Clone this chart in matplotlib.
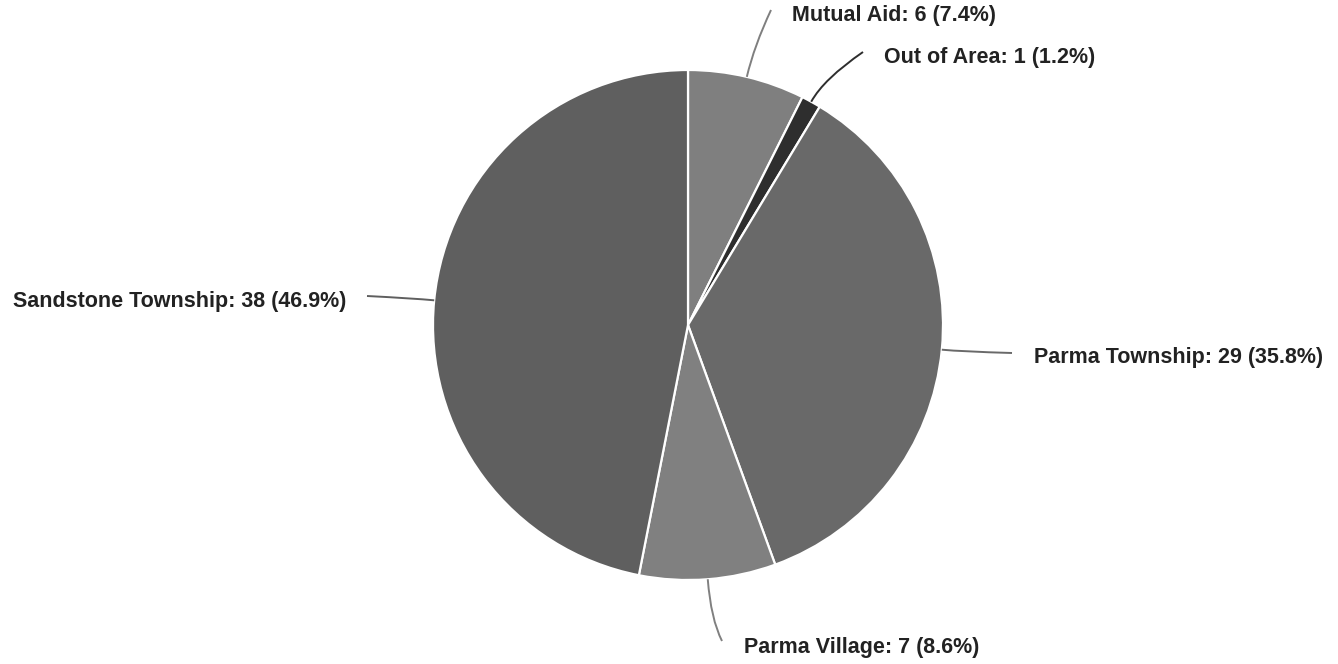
import numpy as np
import matplotlib
matplotlib.use("Agg")
import matplotlib.pyplot as plt
from matplotlib.path import Path
from matplotlib.patches import PathPatch

# ---- data ----
categories = ["Mutual Aid", "Out of Area", "Parma Township", "Parma Village", "Sandstone Township"]
values = [6, 1, 29, 7, 38]
colors = ["#7f7f7f", "#2e2e2e", "#696969", "#808080", "#5f5f5f"]

# ---- layout (pixel coords, y measured from top) ----
W, H = 1338, 664
CX, CY, R = 688, 325, 255
# label anchor (x, y) and alignment, plus connector end point
label_pos = [(792, 15, "left"), (884, 58, "left"), (1034, 357, "left"), (744, 647, "left"), (346, 301, "right")]
line_end = [(771, 10), (863, 52), (1012, 353), (722, 641), (367, 296)]
ctrl_ext = [32, 26, 20, 40, 20]

def Y(y):
    return H - y

fig = plt.figure(figsize=(W / 100, H / 100), dpi=100)
ax = fig.add_axes([0, 0, 1, 1])
wedges, _ = ax.pie(values, colors=colors, startangle=90, counterclock=False,
                   center=(CX, Y(CY)), radius=R,
                   wedgeprops=dict(edgecolor="white", linewidth=1.6))
ax.set_xlim(0, W)
ax.set_ylim(0, H)
ax.set_aspect("equal")
ax.axis("off")

total = sum(values)
for w, cat, v, col, (lx, ly, ha), (ex, ey), ext in zip(wedges, categories, values, colors,
                                                       label_pos, line_end, ctrl_ext):
    mid = np.deg2rad((w.theta1 + w.theta2) / 2)
    sx, sy = CX + R * np.cos(mid), Y(CY) + R * np.sin(mid)
    cx, cy = CX + (R + ext) * np.cos(mid), Y(CY) + (R + ext) * np.sin(mid)
    path = Path([(sx, sy), (cx, cy), (ex, Y(ey))], [Path.MOVETO, Path.CURVE3, Path.CURVE3])
    ax.add_patch(PathPatch(path, fill=False, edgecolor=col, linewidth=1.4))
    ax.text(lx, Y(ly), f"{cat}: {v} ({v / total * 100:.1f}%)", ha=ha, va="center",
            fontsize=15.5, fontweight="bold", color="#222222",
            family=["Liberation Sans", "DejaVu Sans"])

fig.savefig("out.png", dpi=100, facecolor="white")
